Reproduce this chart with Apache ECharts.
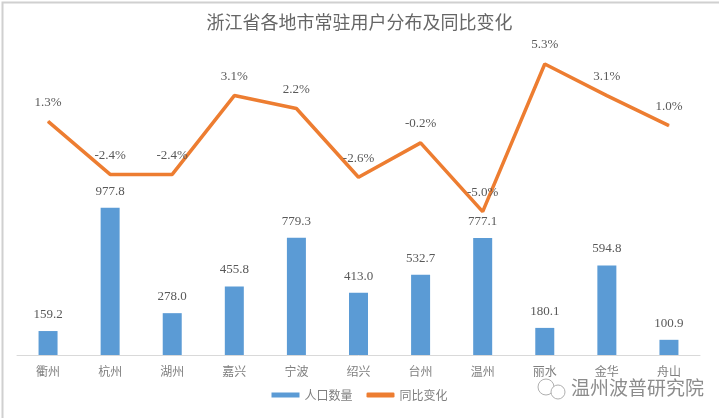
<!DOCTYPE html>
<html><head><meta charset="utf-8">
<script src="https://cdn.jsdelivr.net/npm/echarts@6/dist/echarts.min.js"></script>
<style>html,body{margin:0;padding:0;background:#fff}#c{width:719px;height:418px}</style>
</head><body><div id="c"></div>
<script>
var categories = ['衢州','杭州','湖州','嘉兴','宁波','绍兴','台州','温州','丽水','金华','舟山'];
var population = [159.2, 977.8, 278.0, 455.8, 779.3, 413.0, 532.7, 777.1, 180.1, 594.8, 100.9];
var yoyChange = [1.3, -2.4, -2.4, 3.1, 2.2, -2.6, -0.2, -5.0, 5.3, 3.1, 1.0];

var FONT = "'Liberation Serif','Noto Sans CJK SC',serif";
var chart = echarts.init(document.getElementById('c'));
chart.setOption({
  backgroundColor: '#fff',
  animation: false,
  title: {
    text: '浙江省各地市常驻用户分布及同比变化',
    left: 'center', top: 8,
    textStyle: {color: '#666666', fontSize: 18, fontWeight: 'normal', fontFamily: "'Noto Sans CJK SC',sans-serif"}
  },
  legend: {
    bottom: 12, left: 'center', itemGap: 14, itemWidth: 28, itemHeight: 5,
    textStyle: {color: '#7f7f7f', fontSize: 12, fontFamily: "'Noto Sans CJK SC',sans-serif"},
    data: [{name: '人口数量', icon: 'rect'}, {name: '同比变化', icon: 'roundRect'}]
  },
  grid: {left: 17, right: 19, top: 54, bottom: 63},
  xAxis: {
    type: 'category', data: categories,
    axisLine: {lineStyle: {color: '#d9d9d9', width: 1}},
    axisTick: {show: false},
    axisLabel: {color: '#7f7f7f', fontSize: 12, margin: 10, fontFamily: "'Noto Sans CJK SC',sans-serif"}
  },
  yAxis: [
    {type: 'value', min: 0, max: 2000, show: false, splitLine: {show: false}},
    {type: 'value', min: -15, max: 6, show: false, splitLine: {show: false}}
  ],
  series: [
    {
      name: '人口数量', type: 'bar', data: population, barWidth: 19, yAxisIndex: 0,
      itemStyle: {color: '#5B9BD5'},
      label: {show: true, position: 'top', distance: 10, color: '#595959', fontSize: 13, fontFamily: FONT,
        formatter: function(p){ return p.value.toFixed(1); }}
    },
    {
      name: '同比变化', type: 'line', data: yoyChange, yAxisIndex: 1,
      symbol: 'circle', symbolSize: 1, showSymbol: true,
      lineStyle: {color: '#ED7D31', width: 3.5}, itemStyle: {color: '#ED7D31'},
      label: {show: true, position: 'top', distance: 12, color: '#595959', fontSize: 13, fontFamily: FONT,
        formatter: function(p){ return p.value.toFixed(1) + '%'; }}
    }
  ],
  graphic: [
    {type: 'rect', left: 0, top: 0, shape: {width: 718, height: 417}, style: {fill: 'none', stroke: '#d0d0d0', lineWidth: 2}, silent: true},
    {type: 'text', left: 571, top: 378, style: {text: '温州波普研究院', fill: '#8c8c8c', fontSize: 19, fontFamily: "'Noto Sans CJK SC',sans-serif"}},
    {type: 'circle', shape: {cx: 546, cy: 387, r: 8}, style: {fill: 'none', stroke: '#b0b0b0', lineWidth: 1}},
    {type: 'circle', shape: {cx: 558, cy: 392, r: 7}, style: {fill: '#fff', stroke: '#b0b0b0', lineWidth: 1}}
  ]
});
</script></body></html>
